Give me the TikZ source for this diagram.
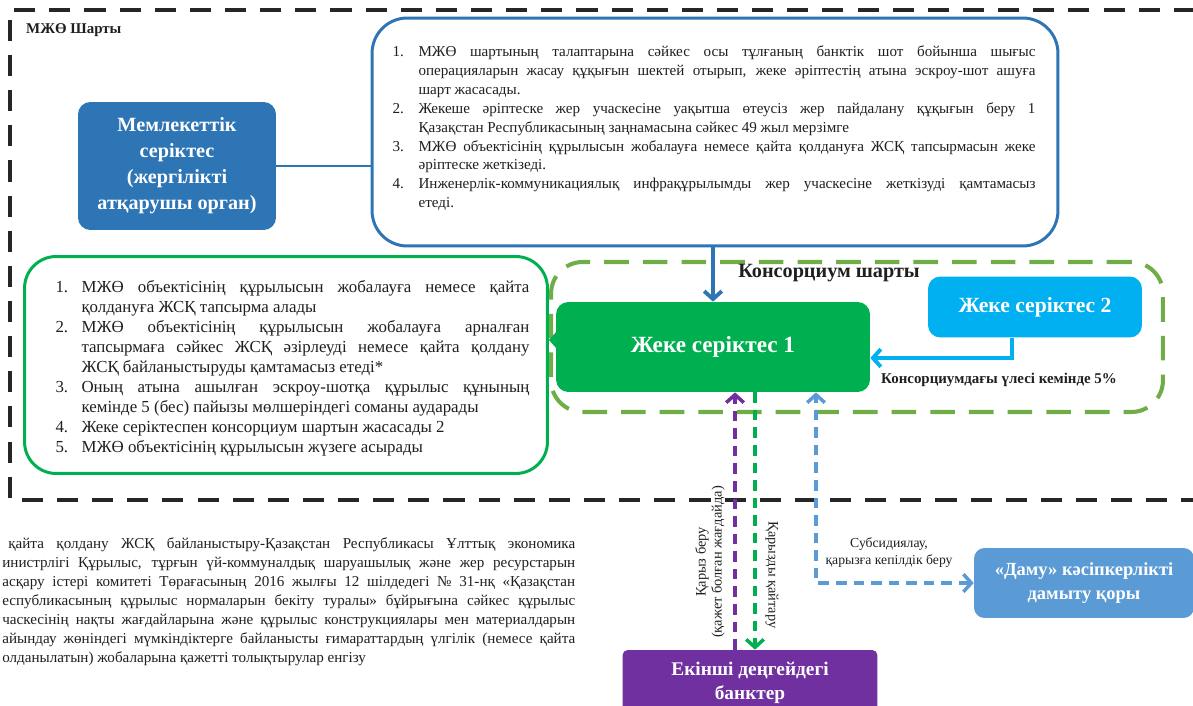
\documentclass[tikz,border=0pt]{standalone}
\usepackage{fontspec}
\setmainfont{Liberation Serif}
\usepackage{enumitem}
\usetikzlibrary{arrows.meta,positioning}
\definecolor{framegray}{HTML}{262626}
\definecolor{govblue}{HTML}{2E75B6}
\definecolor{pgreen}{HTML}{00B050}
\definecolor{lgreen}{HTML}{70AD47}
\definecolor{pcyan}{HTML}{00B0F0}
\definecolor{bankpurple}{HTML}{7030A0}
\definecolor{damublue}{HTML}{5B9BD5}
\setlist[enumerate]{label=\arabic*., leftmargin=0.52cm, labelwidth=0.3cm, labelsep=0.22cm, align=left, itemsep=0pt, topsep=0pt, parsep=0pt, partopsep=0pt}

\begin{document}
\begin{tikzpicture}[x=0.02cm, y=-0.02cm, >={Straight Barb[length=4.5pt,width=10pt]}, text=black!88,
  box/.style={rectangle, rounded corners=7pt, text=white, align=center, inner sep=2pt, font=\fontsize{12}{14.5}\selectfont\bfseries},
  frame/.style={rectangle, fill=white, line width=1.7pt, inner sep=0pt},
  listtext/.style={align=justify, inner sep=0pt},
  flow/.style={->, line width=2.2pt},
  dashflow/.style={->, line width=2pt, dash pattern=on 6pt off 4pt}]
  \useasboundingbox (0,0) rectangle (1193,706);
  \draw[line width=2.3pt, draw=framegray, dash pattern=on 12pt off 8pt] (1230,10) -- (10,10) -- (10,500) -- (1230,500);
  \node[anchor=west, font=\fontsize{8.5}{10}\selectfont\bfseries] (ppplbl) at (20,30) {МЖӨ Шарты};

  \node[box, fill=govblue, minimum width=3.96cm, minimum height=2.56cm, font=\fontsize{11.5}{14.8}\selectfont\bfseries] (gov) at (177,166) {Мемлекеттік\\серіктес\\(жергілікті\\атқарушы орган)};
  \node[frame, draw=govblue, rounded corners=20pt, minimum width=13.72cm, minimum height=4.56cm] (duties) at (715,132) {};
  \node[listtext, text width=12.86cm, font=\fontsize{8.6}{10.8}\selectfont] (dutiestext) at (714,124) {\begin{enumerate}
    \item МЖӨ шартының талаптарына сәйкес осы тұлғаның банктік шот бойынша шығыс\linebreak операцияларын жасау құқығын шектей отырып, жеке әріптестің атына эскроу-шот ашуға\linebreak шарт жасасады.
    \item Жекеше әріптеске жер учаскесіне уақытша өтеусіз жер пайдалану құқығын беру 1\linebreak Қазақстан Республикасының заңнамасына сәйкес 49 жыл мерзімге
    \item МЖӨ объектісінің құрылысын жобалауға немесе қайта қолдануға ЖСҚ тапсырмасын жеке\linebreak әріптеске жеткізеді.
    \item Инженерлік-коммуникациялық инфрақұрылымды жер учаскесіне жеткізуді қамтамасыз\linebreak етеді.
  \end{enumerate}};

  \node[rectangle, draw=lgreen, line width=2.3pt, dash pattern=on 14pt off 8pt, rounded corners=18pt, minimum width=12.24cm, minimum height=3cm] (cons) at (857,337) {};
  \node[font=\fontsize{11.5}{13}\selectfont\bfseries] (conslbl) at (829,273) {Консорциум шарты};
  \node[box, fill=pgreen, minimum width=6.28cm, minimum height=1.8cm, font=\fontsize{13.2}{15}\selectfont\bfseries] (ps1) at (713,347) {Жеке серіктес 1};
  \node[box, fill=pcyan, minimum width=4.28cm, minimum height=1.22cm, font=\fontsize{12.3}{14}\selectfont\bfseries] (ps2) at (1035,307) {Жеке серіктес 2};
  \node[anchor=west, font=\fontsize{8.5}{10}\selectfont\bfseries] (sharelbl) at (875,380) {Консорциумдағы үлесі кемінде 5\%};

  \node[frame, draw=pgreen, rounded corners=18pt, minimum width=10.46cm, minimum height=4.34cm] (lbox) at (286,365) {};
  \node[listtext, text width=9.46cm, font=\fontsize{9.6}{11.4}\selectfont] (lboxtext) at (293,364) {\begin{enumerate}[leftmargin=0.5cm]
    \item МЖӨ объектісінің құрылысын жобалауға немесе қайта\linebreak қолдануға ЖСҚ тапсырма алады
    \item МЖӨ объектісінің құрылысын жобалауға арналған\linebreak тапсырмаға сәйкес ЖСҚ әзірлеуді немесе қайта қолдану\linebreak ЖСҚ байланыстыруды қамтамасыз етеді*
    \item Оның атына ашылған эскроу-шотқа құрылыс құнының\linebreak кемінде 5 (бес) пайызы мөлшеріндегі соманы аударады
    \item Жеке серіктеспен консорциум шартын жасасады 2
    \item МЖӨ объектісінің құрылысын жүзеге асырады
  \end{enumerate}};

  \node[box, fill=bankpurple, rounded corners=3pt, minimum width=5.1cm, minimum height=1.32cm, font=\fontsize{11}{14}\selectfont\bfseries] (bank) at (750,683) {Екінші деңгейдегі\\банктер};
  \node[box, fill=damublue, rounded corners=6pt, minimum width=4.4cm, minimum height=1.4cm, font=\fontsize{10.5}{14}\selectfont\bfseries] (damu) at (1084,583) {«Даму» кәсіпкерлікті\\дамыту қоры};

  \node[anchor=north west, listtext, text width=11.46cm, font=\fontsize{8.6}{10.8}\selectfont] (note) at (2,537) {\hspace*{0.12cm}қайта қолдану ЖСҚ байланыстыру-Қазақстан Республикасы Ұлттық экономика\linebreak инистрлігі Құрылыс, тұрғын үй-коммуналдық шаруашылық және жер ресурстарын\linebreak асқару істері комитеті Төрағасының 2016 жылғы 12 шілдедегі № 31-нқ «Қазақстан\linebreak еспубликасының құрылыс нормаларын бекіту туралы» бұйрығына сәйкес құрылыс\linebreak часкесінің нақты жағдайларына және құрылыс конструкциялары мен материалдарын\linebreak айындау жөніндегі мүмкіндіктерге байланысты ғимараттардың үлгілік (немесе қайта\linebreak олданылатын) жобаларына қажетті толықтырулар енгізу};

  \draw[line width=1.7pt, draw=govblue] (gov.east) -- (gov.east -| duties.west);
  \draw[flow, draw=govblue] (ps1.north |- duties.south) -- (ps1.north);
  \draw[flow, draw=pcyan] ([xshift=-0.46cm]ps2.south) |- ([yshift=-0.22cm]ps1.east);
  \draw[flow, draw=pgreen] ([yshift=0.14cm]ps1.west) -- ([yshift=0.14cm]ps1.west -| lbox.east);
  \draw[dashflow, draw=bankpurple] ([xshift=-0.3cm]bank.north) -- ([xshift=-0.3cm]bank.north |- ps1.south);
  \draw[dashflow, draw=pgreen] ([xshift=0.1cm]bank.north |- ps1.south) -- ([xshift=0.1cm]bank.north);
  \draw[dashflow, <->, draw=damublue] (damu.west) -| ([xshift=2.06cm]ps1.south);

  \node[rotate=90, align=center, font=\fontsize{8.2}{9}\selectfont] (loanlbl) at (710,562) {Қарыз беру\\(қажет болған жағдайда)};
  \node[rotate=-90, font=\fontsize{8.2}{9}\selectfont] (repaylbl) at (772,575) {Қарызды қайтару};
  \node[align=center, font=\fontsize{7.8}{9.6}\selectfont] (subslbl) at (889,553) {Субсидиялау,\\қарызға кепілдік беру};
\end{tikzpicture}
\end{document}
